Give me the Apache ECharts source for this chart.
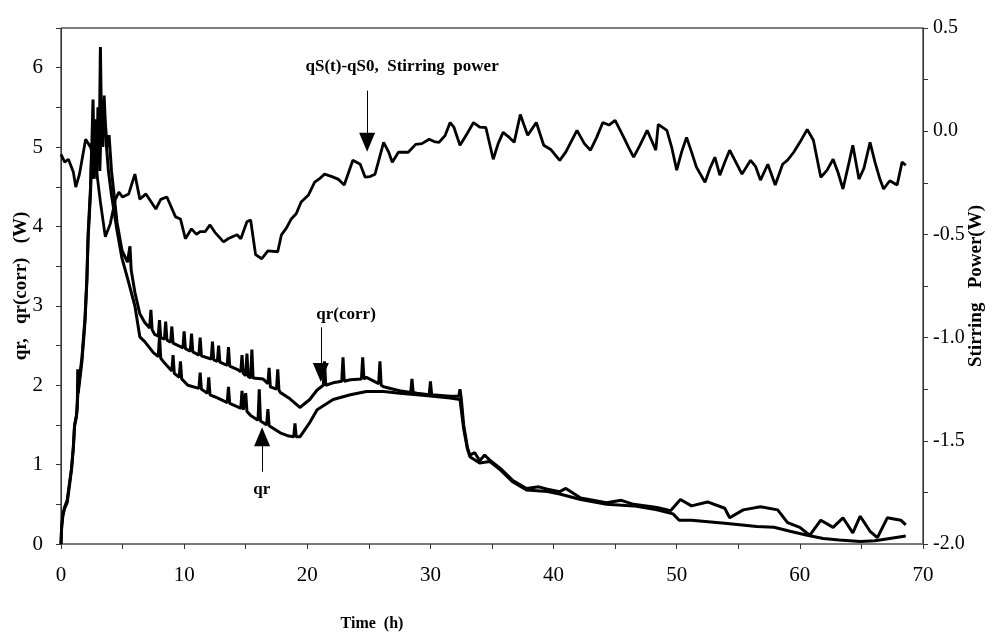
<!DOCTYPE html>
<html>
<head>
<meta charset="utf-8">
<script src="https://cdn.jsdelivr.net/npm/echarts/dist/echarts.min.js"></script>
<style>
  html, body { margin: 0; padding: 0; background: #fff; }
  #chart { width: 994px; height: 634px; }
</style>
</head>
<body>
<div id="chart"></div>
<script>
// [time (h), qr (W)]
var qrData = [
  [0, 0.0], [0.05, 0.2], [0.15, 0.35], [0.3, 0.45], [0.5, 0.52], [0.7, 0.75], [0.85, 0.93], [1.0, 1.2],
  [1.1, 1.48], [1.25, 1.6], [1.32, 1.7], [1.36, 2.2], [1.4, 1.9], [1.7, 2.3], [1.95, 2.8], [2.1, 3.3],
  [2.2, 3.84], [2.4, 4.43], [2.5, 5.0], [2.6, 5.6], [2.7, 4.7], [2.8, 5.35], [2.9, 4.6], [3.0, 5.5],
  [3.1, 4.9], [3.2, 6.26], [3.3, 5.1], [3.45, 5.6], [3.6, 5.2], [3.7, 5.0], [3.85, 4.7], [4.1, 4.4],
  [4.55, 3.95], [4.95, 3.6], [5.4, 3.35], [6.0, 3.0], [6.4, 2.61], [6.8, 2.55], [7.5, 2.41], [7.9, 2.36],
  [8.0, 2.62], [8.1, 2.34], [8.3, 2.3], [9.0, 2.18], [9.1, 2.38], [9.2, 2.15], [9.6, 2.1], [9.7, 2.3],
  [9.8, 2.08], [10.3, 2.0], [11.2, 1.96], [11.3, 2.16], [11.4, 1.95], [11.9, 1.9], [12.0, 2.1], [12.1, 1.88],
  [12.7, 1.84], [13.5, 1.78], [13.6, 1.98], [13.7, 1.77], [14.3, 1.73], [14.6, 1.71], [14.7, 1.93], [14.8, 1.69],
  [14.9, 1.68], [15.0, 1.9], [15.1, 1.67], [15.4, 1.62], [16.0, 1.56], [16.1, 1.95], [16.2, 1.55], [16.4, 1.53],
  [16.7, 1.5], [16.8, 1.7], [16.9, 1.49], [17.8, 1.4], [18.5, 1.36], [18.9, 1.35], [19.0, 1.52], [19.1, 1.35],
  [19.4, 1.35], [20.2, 1.53], [20.8, 1.69], [22.1, 1.82], [23.5, 1.88], [24.8, 1.92], [26.2, 1.92], [27.5, 1.9],
  [28.9, 1.88], [30.2, 1.86], [31.6, 1.84], [32.4, 1.82], [32.7, 1.45], [33.0, 1.2], [33.2, 1.1], [34.0, 1.02],
  [34.8, 1.04], [35.7, 0.93], [36.7, 0.78], [37.8, 0.68], [39.5, 0.66], [40.5, 0.63], [42.2, 0.56], [44.3, 0.5],
  [46.5, 0.48], [48.4, 0.43], [49.7, 0.38], [50.2, 0.3], [51.2, 0.3], [53.9, 0.26], [56.5, 0.22], [57.9, 0.21],
  [59.2, 0.16], [60.6, 0.11], [61.9, 0.07], [63.2, 0.05], [64.9, 0.03], [66.1, 0.04], [67.3, 0.07], [68.6, 0.1]
]

// [time (h), qr(corr) (W)]
var qrCorrData = [
  [0, 0.0], [0.05, 0.22], [0.15, 0.38], [0.3, 0.47], [0.5, 0.55], [0.7, 0.78], [0.85, 0.95], [1.0, 1.22],
  [1.1, 1.5], [1.25, 1.62], [1.4, 1.95], [1.7, 2.35], [1.95, 2.85], [2.1, 3.35], [2.2, 3.9], [2.4, 4.5],
  [2.5, 5.05], [2.65, 4.6], [2.75, 5.3], [2.85, 4.8], [3.0, 5.2], [3.15, 4.7], [3.3, 5.5], [3.4, 5.0],
  [3.5, 5.65], [3.6, 5.3], [3.75, 5.0], [3.9, 5.15], [4.1, 4.7], [4.55, 4.05], [4.95, 3.7], [5.4, 3.55],
  [5.6, 3.75], [5.7, 3.45], [6.0, 3.17], [6.4, 2.9], [6.8, 2.79], [7.2, 2.72], [7.3, 2.95], [7.4, 2.7],
  [7.6, 2.64], [7.9, 2.62], [8.0, 2.82], [8.1, 2.6], [8.4, 2.58], [8.5, 2.8], [8.6, 2.57], [8.9, 2.54],
  [9.0, 2.74], [9.1, 2.53], [9.9, 2.47], [10.0, 2.68], [10.1, 2.46], [10.5, 2.43], [10.6, 2.65], [10.7, 2.42],
  [11.2, 2.38], [11.3, 2.6], [11.4, 2.37], [12.2, 2.33], [12.3, 2.55], [12.4, 2.32], [12.7, 2.3], [12.8, 2.5],
  [12.9, 2.29], [13.5, 2.25], [13.6, 2.48], [13.7, 2.24], [14.3, 2.2], [14.6, 2.17], [14.7, 2.38], [14.8, 2.15],
  [15.0, 2.12], [15.1, 2.4], [15.2, 2.11], [15.4, 2.09], [15.5, 2.45], [15.6, 2.09], [16.4, 2.08], [16.8, 2.02],
  [16.9, 2.22], [17.0, 1.98], [17.5, 1.95], [17.6, 2.2], [17.7, 1.94], [17.8, 1.91], [18.5, 1.84], [19.4, 1.72],
  [20.2, 1.82], [20.8, 1.94], [21.3, 2.0], [21.4, 2.3], [21.5, 2.0], [22.1, 2.03], [22.8, 2.05], [22.9, 2.35],
  [23.0, 2.05], [23.5, 2.07], [24.4, 2.08], [24.5, 2.35], [24.6, 2.08], [24.8, 2.1], [25.8, 2.02], [25.9, 2.3],
  [26.0, 2.0], [26.2, 1.98], [27.5, 1.93], [28.4, 1.91], [28.5, 2.08], [28.6, 1.91], [28.9, 1.9], [29.9, 1.88],
  [30.0, 2.05], [30.1, 1.88], [31.6, 1.86], [32.3, 1.86], [32.4, 1.95], [32.5, 1.84], [32.7, 1.5], [33.0, 1.22],
  [33.2, 1.12], [33.6, 1.15], [34.0, 1.05], [34.4, 1.12], [34.8, 1.06], [35.7, 0.95], [36.7, 0.8], [37.8, 0.7],
  [38.8, 0.72], [39.5, 0.69], [40.5, 0.66], [41.0, 0.7], [42.2, 0.58], [44.3, 0.52], [45.5, 0.55], [46.5, 0.5],
  [48.4, 0.46], [49.5, 0.42], [50.3, 0.56], [51.2, 0.48], [52.5, 0.53], [53.9, 0.45], [54.3, 0.33], [55.4, 0.43],
  [56.8, 0.47], [58.2, 0.43], [59.0, 0.27], [60.0, 0.21], [60.8, 0.11], [61.7, 0.3], [62.7, 0.21], [63.5, 0.33],
  [64.3, 0.14], [64.9, 0.35], [65.7, 0.16], [66.3, 0.08], [67.1, 0.33], [68.2, 0.3], [68.6, 0.24]
]

// [time (h), qS(t)-qS0 stirring power (W)]
var stirData = [
  [0, -0.112], [0.3, -0.15], [0.6, -0.136], [1.0, -0.198], [1.2, -0.271], [1.5, -0.208], [2.0, -0.039], [2.4, -0.078],
  [2.8, -0.15], [3.2, -0.343], [3.6, -0.512], [4.0, -0.449], [4.4, -0.333], [4.7, -0.295], [5.0, -0.319], [5.5, -0.304],
  [6.0, -0.208], [6.4, -0.329], [6.9, -0.304], [7.7, -0.377], [8.1, -0.33], [8.6, -0.319], [9.3, -0.415], [9.7, -0.425],
  [10.1, -0.521], [10.6, -0.473], [11.0, -0.5], [11.3, -0.487], [11.7, -0.487], [12.1, -0.454], [12.5, -0.49], [13.2, -0.536],
  [13.6, -0.52], [14.3, -0.502], [14.6, -0.521], [15.1, -0.439], [15.4, -0.43], [15.8, -0.598], [16.3, -0.618], [16.8, -0.58],
  [17.6, -0.584], [17.9, -0.502], [18.3, -0.47], [18.7, -0.425], [19.1, -0.4], [19.5, -0.343], [20.1, -0.309], [20.6, -0.247],
  [21.0, -0.23], [21.4, -0.208], [22.0, -0.22], [22.5, -0.232], [23.0, -0.261], [23.7, -0.141], [24.3, -0.16], [24.7, -0.223],
  [25.1, -0.22], [25.5, -0.208], [26.2, -0.054], [26.6, -0.1], [26.9, -0.15], [27.4, -0.102], [28.2, -0.102], [28.8, -0.064],
  [29.3, -0.06], [29.9, -0.039], [30.3, -0.05], [30.7, -0.054], [31.2, -0.02], [31.6, 0.042], [31.9, 0.02], [32.4, -0.068],
  [32.9, -0.02], [33.5, 0.042], [34.0, 0.02], [34.5, 0.018], [35.1, -0.136], [35.5, -0.06], [35.9, -0.006], [36.4, -0.03],
  [36.8, -0.054], [37.3, 0.081], [37.6, 0.03], [37.9, -0.02], [38.6, 0.042], [39.2, -0.068], [39.8, -0.09], [40.5, -0.141],
  [41.0, -0.1], [41.9, 0.004], [42.5, -0.06], [43.0, -0.092], [43.5, -0.03], [44.0, 0.042], [44.5, 0.03], [45.0, 0.052],
  [45.7, -0.03], [46.1, -0.08], [46.5, -0.126], [47.0, -0.07], [47.6, 0.004], [48.0, -0.05], [48.3, -0.092], [48.5, 0.033],
  [49.2, 0.004], [49.6, -0.08], [50.0, -0.189], [50.4, -0.1], [50.8, -0.03], [51.2, -0.1], [51.6, -0.174], [52.3, -0.247],
  [52.7, -0.18], [53.1, -0.126], [53.5, -0.213], [53.9, -0.15], [54.3, -0.092], [54.8, -0.15], [55.3, -0.208], [56.0, -0.141],
  [56.4, -0.17], [56.8, -0.237], [57.4, -0.16], [58.0, -0.261], [58.6, -0.16], [59.0, -0.14], [59.5, -0.102], [60.0, -0.054],
  [60.6, 0.009], [61.1, -0.044], [61.7, -0.223], [62.2, -0.19], [62.7, -0.136], [63.1, -0.2], [63.5, -0.28], [64.0, -0.15],
  [64.3, -0.068], [64.8, -0.232], [65.2, -0.18], [65.7, -0.054], [66.1, -0.15], [66.5, -0.232], [66.8, -0.28], [67.3, -0.24],
  [67.9, -0.261], [68.3, -0.15], [68.6, -0.165]
]

// annotation arrows, [time, qr] start -> end
var stirArrow = [[24.86, 5.71], [24.86, 5.06]]
var corrArrow = [[21.1, 2.73], [21.1, 2.16]]
var qrArrow = [[16.33, 0.91], [16.33, 1.35]]
var labelNotes = [
  { text: 'qS(t)-qS0,  Stirring  power', at: [27.7, 6.01] },
  { text: 'qr(corr)', at: [23.15, 2.89] },
  { text: 'qr', at: [16.3, 0.68] }
]

var serif = 'Liberation Serif'
var chart = echarts.init(document.getElementById('chart'))

function arrowLine(pts) {
  return [{ coord: pts[0], symbol: 'none' }, { coord: pts[1], symbol: 'triangle', symbolSize: [16, 19] }]
}

chart.setOption({
  animation: false,
  backgroundColor: '#fff',
  grid: {
    left: 61,
    right: 71,
    top: 28,
    bottom: 90,
    containLabel: false,
    outerBoundsMode: 'none',
    show: true,
    borderColor: '#000',
    borderWidth: 1
  },
  xAxis: {
    type: 'value',
    min: 0,
    max: 70,
    interval: 5,
    name: 'Time  (h)',
    nameLocation: 'middle',
    nameGap: 72,
    nameTextStyle: { fontFamily: serif, fontWeight: 'bold', fontSize: 16, color: '#000', padding: [0, 240, 0, 0] },
    axisLine: { lineStyle: { color: '#777', width: 1.5 } },
    axisTick: { length: 5, lineStyle: { color: '#333' } },
    axisLabel: {
      fontFamily: serif,
      fontSize: 21,
      color: '#000',
      margin: 21,
      formatter: function(v) { return v % 10 === 0 ? String(v) : '' }
    },
    splitLine: { show: false }
  },
  yAxis: [
    {
      type: 'value',
      min: 0,
      max: 6.5,
      interval: 0.5,
      name: 'qr,   qr(corr)   (W)',
      nameLocation: 'middle',
      nameRotate: 90,
      nameGap: 30,
      nameMoveOverlap: false,
      nameTextStyle: { fontFamily: serif, fontWeight: 'bold', fontSize: 19, color: '#000' },
      axisLine: { show: true, lineStyle: { color: '#333', width: 1 } },
      axisTick: { length: 5, lineStyle: { color: '#333' } },
      axisLabel: {
        fontFamily: serif,
        fontSize: 21,
        color: '#000',
        margin: 18,
        formatter: function(v) { return Number.isInteger(v) ? String(v) : '' }
      },
      splitLine: { show: false }
    },
    {
      type: 'value',
      min: -2,
      max: 0.5,
      interval: 0.25,
      position: 'right',
      name: 'Stirring   Power(W)',
      nameLocation: 'middle',
      nameRotate: 90,
      nameGap: 44,
      nameMoveOverlap: false,
      nameTextStyle: { fontFamily: serif, fontWeight: 'bold', fontSize: 19, color: '#000' },
      axisLine: { show: true, lineStyle: { color: '#333', width: 1 } },
      axisTick: { length: 5, lineStyle: { color: '#333' } },
      axisLabel: {
        fontFamily: serif,
        fontSize: 20,
        color: '#000',
        margin: 10,
        formatter: function(v) {
          return Math.abs(v * 2 - Math.round(v * 2)) < 1e-6 ? v.toFixed(1) : ''
        }
      },
      splitLine: { show: false }
    }
  ],
  series: [
    {
      name: 'qr',
      type: 'line',
      yAxisIndex: 0,
      showSymbol: false,
      lineStyle: { color: '#000', width: 3 },
      data: qrData,
      markLine: {
        silent: true,
        animation: false,
        lineStyle: { color: '#000', width: 1, type: 'solid' },
        itemStyle: { color: '#000' },
        label: { show: false },
        data: [arrowLine(stirArrow), arrowLine(corrArrow), arrowLine(qrArrow)]
      },
      markPoint: {
        silent: true,
        symbol: 'circle',
        symbolSize: 0,
        label: {
          show: true,
          position: 'inside',
          fontFamily: serif,
          fontWeight: 'bold',
          fontSize: 17,
          color: '#000',
          formatter: function(p) { return p.name }
        },
        data: labelNotes.map(function(n) { return { name: n.text, coord: n.at } })
      }
    },
    {
      name: 'qr(corr)',
      type: 'line',
      yAxisIndex: 0,
      showSymbol: false,
      lineStyle: { color: '#000', width: 3 },
      data: qrCorrData
    },
    {
      name: 'Stirring power',
      type: 'line',
      yAxisIndex: 1,
      showSymbol: false,
      lineStyle: { color: '#000', width: 2.8 },
      data: stirData
    }
  ]
})
</script>
</body>
</html>
